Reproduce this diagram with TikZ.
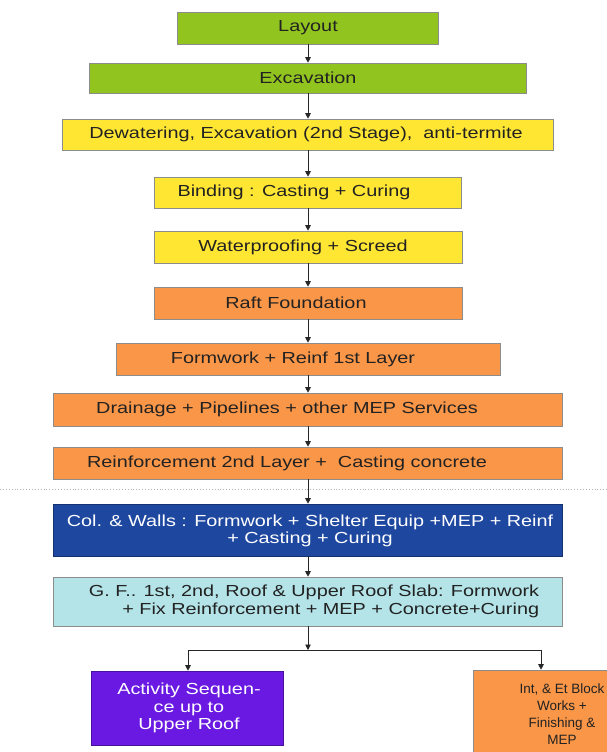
\documentclass[tikz,border=0pt]{standalone}
\usepackage{fontspec}
\setmainfont{Liberation Sans}[FakeStretch=1.24]
\newfontfamily\plainsans{Liberation Sans}
\usetikzlibrary{arrows.meta,calc}
\definecolor{cgreen}{HTML}{92C41F}
\definecolor{cyellow}{HTML}{FFE633}
\definecolor{corange}{HTML}{F99648}
\definecolor{cblue}{HTML}{1E48A0}
\definecolor{ccyan}{HTML}{B4E4E8}
\definecolor{cpurple}{HTML}{6919E1}
\definecolor{ctext}{HTML}{222222}
\begin{document}
\begin{tikzpicture}[x=1pt,y=1pt,
  bx/.style={draw=black!45, line width=0.6pt, inner sep=0pt, minimum width=#1},
  txt/.style={inner sep=0pt, text=ctext, font=\fontsize{16}{17.5}\selectfont},
  wtxt/.style={txt, text=white},
  arr/.style={draw=black!85, line width=0.7pt, -{Triangle[length=5.5pt,width=5.5pt]}}]
\useasboundingbox (0,0) rectangle (607,-752);
\clip (0,0) rectangle (607,-752);

% boxes
\node[bx=261, minimum height=32, fill=cgreen] (L) at (308,-28) {};
\node[txt] (Lt) at (L.center) {Layout};
\node[bx=437, minimum height=30, fill=cgreen] (E) at (308,-78) {};
\node[txt] (Et) at (E.center) {Excavation};
\node[bx=491, minimum height=31, fill=cyellow] (D) at (308,-134.5) {};
\node[txt] (Dt) at ([xshift=-2pt]D.center) {Dewatering, Excavation (2nd Stage),\ \ anti-termite};
\node[bx=307, minimum height=31, fill=cyellow] (B) at (308,-192.5) {};
\node[txt] (Bt) at ([xshift=-14pt]B.center) {Binding : Casting + Curing};
\node[bx=308, minimum height=32, fill=cyellow] (W) at (308,-247) {};
\node[txt] (Wt) at ([xshift=-5pt]W.center) {Waterproofing + Screed};
\node[bx=308, minimum height=32, fill=corange] (R) at (308,-303) {};
\node[txt] (Rt) at ([xshift=-12pt]R.center) {Raft Foundation};
\node[bx=384, minimum height=32, fill=corange] (F) at (308,-359) {};
\node[txt] (Ft) at ([xshift=-15pt]F.center) {Formwork + Reinf 1st Layer};
\node[bx=509, minimum height=33, fill=corange] (Dr) at (308,-409.5) {};
\node[txt] (Drt) at ([xshift=-21pt]Dr.center) {Drainage + Pipelines + other MEP Services};
\node[bx=509, minimum height=32, fill=corange] (Re) at (308,-463) {};
\node[txt] (Ret) at ([xshift=-21pt]Re.center) {Reinforcement 2nd Layer +\ \ Casting concrete};

% dotted divider
\coordinate (dl) at (0,-489);
\coordinate (dr) at (607,-489);
\draw[black!30, dotted, line width=0.9pt] (dl) -- (dr);

\node[bx=509, minimum height=52, fill=cblue, draw=cblue!70!black] (C) at (308,-530) {};
\node[wtxt, align=center] (Ct) at ([xshift=2pt,yshift=-1pt]C.center) {Col. \& Walls : Formwork + Shelter Equip +MEP + Reinf\\+ Casting + Curing};
\node[bx=509, minimum height=49, fill=ccyan] (G) at (308,-601.5) {};
\node[txt, align=right] (Gt) at ([xshift=6pt]G.center) {G. F.. 1st, 2nd, Roof \& Upper Roof Slab: Formwork\\+ Fix Reinforcement + MEP + Concrete+Curing};

\node[bx=192, minimum height=74, fill=cpurple, draw=cpurple!70!black] (A) at (187,-708) {};
\node[wtxt, align=center] (At) at ([xshift=2pt]A.center) {Activity Sequen-\\ce up to\\Upper Roof};
\node[bx=184, minimum height=88, fill=corange] (I) at (565,-714) {};
\node[txt, align=center, font=\plainsans\fontsize{13.5}{16.8}\selectfont] (It) at ([xshift=-3pt]I.center) {Int, \& Et Block\\Works +\\Finishing \&\\MEP};

% connectors
\draw[arr] (L) -- (E);
\draw[arr] (E) -- (D);
\draw[arr] (D) -- (B);
\draw[arr] (B) -- (W);
\draw[arr] (W) -- (R);
\draw[arr] (R) -- (F);
\draw[arr] (F) -- (Dr);
\draw[arr] (Dr) -- (Re);
\draw[arr] (Re) -- (C);
\draw[arr] (C) -- (G);
\coordinate (J) at (308,-650);
\draw[arr] (G) -- (J);
\draw[arr] (J) -| ([xshift=1pt]A.north);
\draw[arr] (J) -| ([xshift=-24pt]I.north);
\end{tikzpicture}
\end{document}
